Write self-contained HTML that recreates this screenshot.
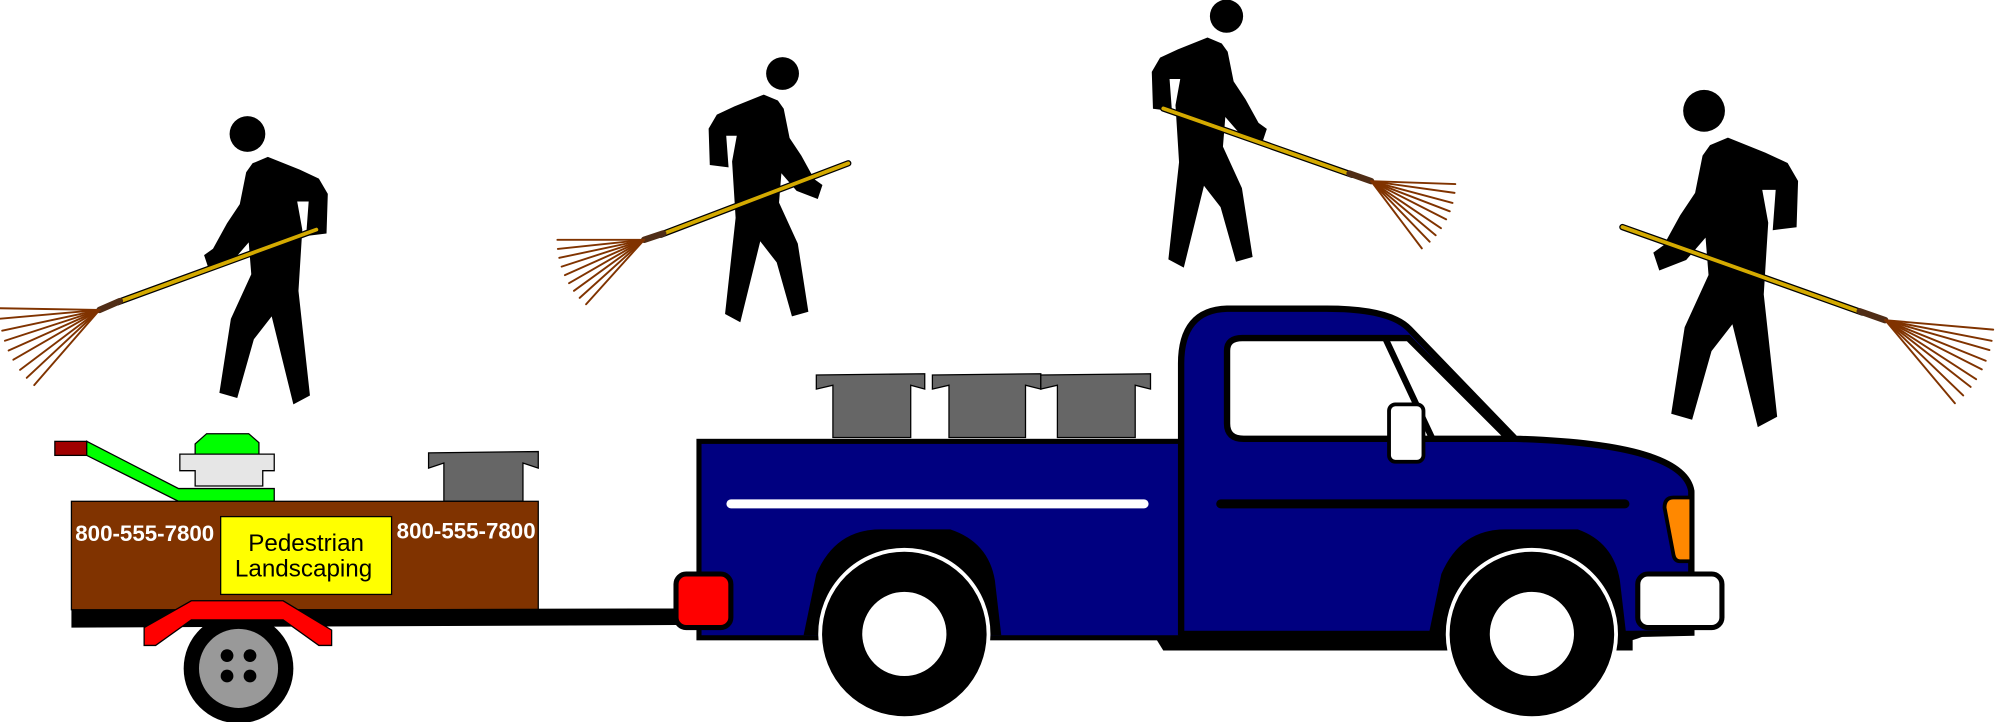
<!DOCTYPE html>
<html><head><meta charset="utf-8"><style>html,body{margin:0;padding:0;background:#fff;width:2000px;height:722px;overflow:hidden}</style></head>
<body>
<svg width="2000" height="722" viewBox="0 0 1568 566" xmlns="http://www.w3.org/2000/svg">
<defs>
<g id="pr">
<circle cx="194" cy="105" r="14" fill="#000"/>
<polygon fill="#000" points="198,128 210,123 235,133 250,140 257,152 256,183 240,185 242,158 233,158 237,180 234,228 243,310 230,317 213,248 199,266 186,312 172,308 181,250 197,215 195,190 182,205 164,212 160,200 167,195 178,175 188,160 193,135"/>
</g>
</defs>
<use href="#pr"/>
<use href="#pr" transform="translate(792,-39) scale(-0.92,0.92)"/>
<use href="#pr" transform="translate(1142,-85) scale(-0.93,0.93)"/>
<use href="#pr" transform="translate(1109,-36) scale(1.17)"/>
<g stroke-linecap="round">
<line x1="92" y1="237" x2="248" y2="180" stroke="#000" stroke-width="5"/><line x1="92" y1="237" x2="248" y2="180" stroke="#d4aa00" stroke-width="3"/>
<line x1="78" y1="243" x2="94" y2="236" stroke="#502d16" stroke-width="5"/>
<g transform="translate(78,243)" stroke="#803300" stroke-width="1.5"><line x2="78" transform="rotate(131)"/><line x2="78" transform="rotate(137)"/><line x2="78" transform="rotate(143)"/><line x2="78" transform="rotate(150)"/><line x2="78" transform="rotate(156)"/><line x2="78" transform="rotate(162)"/><line x2="78" transform="rotate(168)"/><line x2="78" transform="rotate(175)"/><line x2="78" transform="rotate(181)"/></g>
<line x1="518" y1="184" x2="665" y2="128" stroke="#000" stroke-width="5"/><line x1="518" y1="184" x2="665" y2="128" stroke="#d4aa00" stroke-width="3"/>
<line x1="505" y1="188" x2="520" y2="183" stroke="#502d16" stroke-width="5"/>
<g transform="translate(505,188)" stroke="#803300" stroke-width="1.5"><line x2="68" transform="rotate(132)"/><line x2="68" transform="rotate(138)"/><line x2="68" transform="rotate(144)"/><line x2="68" transform="rotate(150)"/><line x2="68" transform="rotate(156)"/><line x2="68" transform="rotate(162)"/><line x2="68" transform="rotate(168)"/><line x2="68" transform="rotate(174)"/><line x2="68" transform="rotate(180)"/></g>
<line x1="912" y1="85" x2="1060" y2="137" stroke="#000" stroke-width="5"/><line x1="912" y1="85" x2="1060" y2="137" stroke="#d4aa00" stroke-width="3"/>
<line x1="1058" y1="136" x2="1075" y2="142" stroke="#502d16" stroke-width="5"/>
<g transform="translate(1075,142)" stroke="#803300" stroke-width="1.5"><line x2="66" transform="rotate(2)"/><line x2="66" transform="rotate(8)"/><line x2="66" transform="rotate(15)"/><line x2="66" transform="rotate(21)"/><line x2="66" transform="rotate(27)"/><line x2="66" transform="rotate(34)"/><line x2="66" transform="rotate(40)"/><line x2="66" transform="rotate(46)"/><line x2="66" transform="rotate(53)"/></g>
<line x1="1272" y1="178" x2="1460" y2="245" stroke="#000" stroke-width="5"/><line x1="1272" y1="178" x2="1460" y2="245" stroke="#d4aa00" stroke-width="3"/>
<line x1="1458" y1="244" x2="1478" y2="251" stroke="#502d16" stroke-width="5"/>
<g transform="translate(1478,251)" stroke="#803300" stroke-width="1.5"><line x2="85" transform="rotate(5)"/><line x2="85" transform="rotate(11)"/><line x2="85" transform="rotate(16)"/><line x2="85" transform="rotate(22)"/><line x2="85" transform="rotate(27)"/><line x2="85" transform="rotate(33)"/><line x2="85" transform="rotate(38)"/><line x2="85" transform="rotate(44)"/><line x2="85" transform="rotate(50)"/></g>
</g>
<rect x="43" y="346" width="25" height="11" fill="#a00000" stroke="#000"/>
<polygon points="68,346 140,383 215,383 215,393 140,393 68,357" fill="#0f0" stroke="#000"/>
<path d="M153,356 L153,348 L162,340 L195,340 L203,347 L203,356 Z" fill="#0f0" stroke="#000"/>
<polygon points="141,356 215,356 215,369 206,369 206,381 153,381 153,369 141,369" fill="#e6e6e6" stroke="#000"/>
<polygon points="336,355 422,354 422,367 410,363 410,393 348,393 348,363 336,367" fill="#666" stroke="#000"/>
<rect x="56" y="393" width="366" height="85" fill="#803300" stroke="#000"/>
<polygon points="56,478 530,477 530,490 56,492" fill="#000"/>
<text x="59" y="424" font-family="Liberation Sans, sans-serif" font-weight="bold" font-size="17.5" fill="#fff">800-555-7800</text>
<text x="311" y="422" font-family="Liberation Sans, sans-serif" font-weight="bold" font-size="17.5" fill="#fff">800-555-7800</text>
<rect x="173" y="405" width="134" height="61" fill="#ff0" stroke="#000"/>
<text x="240" y="432" text-anchor="middle" font-family="Liberation Sans, sans-serif" font-size="19">Pedestrian</text>
<text x="238" y="452" text-anchor="middle" font-family="Liberation Sans, sans-serif" font-size="19">Landscaping</text>
<circle cx="187" cy="524" r="43" fill="#000"/>
<circle cx="187" cy="524" r="31" fill="#999"/>
<g fill="#000"><circle cx="178" cy="514" r="5"/><circle cx="196" cy="514" r="5"/><circle cx="178" cy="530" r="5"/><circle cx="196" cy="530" r="5"/></g>
<polygon points="113,492 150,471 222,471 260,494 260,506 250,506 222,486 150,486 122,506 113,506" fill="#f00" stroke="#000"/>
<g fill="#666" stroke="#000">
<polygon points="640,294 725,293 725,305 714,302 714,343 653,343 653,302 640,305"/>
<polygon points="731,294 816,293 816,305 804,302 804,343 744,343 744,302 731,305"/>
<polygon points="816,294 902,293 902,305 890,302 890,343 829,343 829,302 816,305"/>
</g>
<polygon points="904,497 1280,497 1280,510 912,510" fill="#000"/>
<path d="M1260,505 Q1290,503 1305,488 L1280,480 Z" fill="#000"/>
<rect x="548" y="346" width="378" height="154" fill="#000080" stroke="#000" stroke-width="4"/>
<line x1="573" y1="395" x2="897" y2="395" stroke="#fff" stroke-width="7" stroke-linecap="round"/>
<path d="M926,498 L926,285 Q926,243 962,242 L1040,242 Q1090,242 1105,258 L1188,344 Q1320,348 1326,385 L1326,455 L1326,496 L1280,497 L926,497 Z" fill="#000080" stroke="#000" stroke-width="5"/>
<path d="M962,275 Q962,265 974,265 L1104,265 L1183,344 L975,344 Q962,344 962,332 Z" fill="#fff" stroke="#000" stroke-width="5"/>
<line x1="1086" y1="265" x2="1123" y2="344" stroke="#000" stroke-width="5"/>
<rect x="1089" y="317" width="27" height="45" rx="5" fill="#fff" stroke="#000" stroke-width="3"/>
<line x1="957" y1="395" x2="1274" y2="395" stroke="#000" stroke-width="7" stroke-linecap="round"/>
<path d="M1305,398 Q1305,390 1312,390 L1326,390 L1326,440 L1317,440 Q1313,440 1312,435 Z" fill="#f80" stroke="#000" stroke-width="3"/>
<path d="M630,498 L640,450 Q655,415 690,415 L745,415 Q775,425 780,455 L785,498 Z" fill="#000"/>
<path d="M1120,498 L1130,450 Q1145,415 1180,415 L1237,415 Q1265,425 1270,455 L1275,498 Z" fill="#000"/>
<circle cx="709" cy="497" r="66" fill="#000" stroke="#fff" stroke-width="3"/>
<circle cx="709" cy="497" r="33" fill="#fff"/>
<circle cx="1201" cy="497" r="66" fill="#000" stroke="#fff" stroke-width="3"/>
<circle cx="1201" cy="497" r="33" fill="#fff"/>
<rect x="1284" y="450" width="66" height="42" rx="8" fill="#fff" stroke="#000" stroke-width="4"/>
<rect x="530" y="450" width="43" height="42" rx="8" fill="#f00" stroke="#000" stroke-width="4"/>
</svg>
</body></html>
